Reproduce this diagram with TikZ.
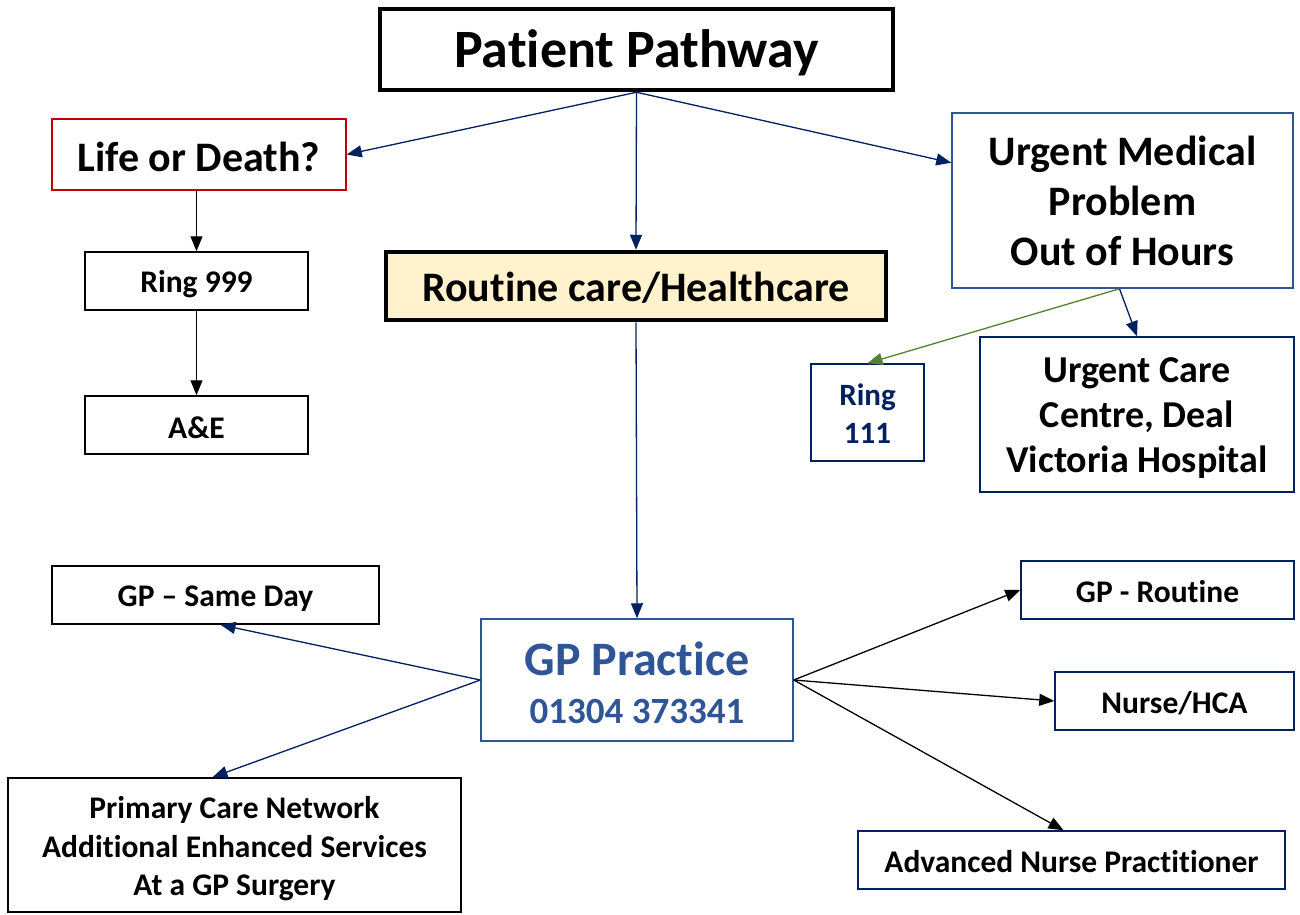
\documentclass[tikz,border=0pt]{standalone}
\usepackage{fontspec}
\setmainfont{Carlito}[RawFeature={-liga;-clig;-calt;-rlig;-dlig}]
\usetikzlibrary{arrows.meta,calc}
\definecolor{navy}{HTML}{002060}
\definecolor{midblue}{HTML}{2F5597}
\definecolor{darkred}{HTML}{C00000}
\definecolor{pgreen}{HTML}{548235}
\definecolor{paleyellow}{HTML}{FFF2CC}
\newcommand\dn[2]{\raisebox{-#1}[\height][\depth]{#2}}
\begin{document}
\begin{tikzpicture}[x=1pt,y=-1pt,
  box/.style={draw, line width=1.5pt, align=center, inner sep=0pt, font=\bfseries},
  thick box/.style={box, line width=4.5pt},
  arr/.style={-{Triangle[length=15pt,width=12pt]}, line width=1.3pt},
  fs/.style args={#1/#2}{font=\fontsize{#1}{#2}\selectfont\bfseries}
]
\useasboundingbox (0,0) rectangle (1300,914);
\fill[white] (0,0) rectangle (1300,914);

\node[thick box, minimum width=513, minimum height=81, fs=54/60] (pp) at (636.5,49.5) {\dn{3pt}{Patient Pathway}};
\node[box, draw=darkred, minimum width=294, minimum height=71, fs=42/48] (life) at (199,154.5) {\dn{2pt}{Life or Death?}};
\node[box, minimum width=223, minimum height=58, fs=31.5/36] (r999) at (196.5,281) {\dn{3pt}{Ring 999}};
\node[box, minimum width=223, minimum height=58, fs=31.5/36] (ae) at (196.5,425) {\dn{3pt}{A\&E}};
\node[thick box, fill=paleyellow, minimum width=500, minimum height=68, fs=42/48] (rc) at (636,286) {\dn{2pt}{Routine care/Healthcare}};
\node[box, draw=midblue, minimum width=341, minimum height=175, fs=42/50] (urg) at (1122.5,200.5) {Urgent Medical\\Problem\\Out of Hours};
\node[box, draw=navy, text=navy, minimum width=113, minimum height=97, fs=31/38] (r111) at (867.5,412.5) {\dn{1pt}{Ring}\\\dn{1pt}{111}};
\node[box, draw=navy, minimum width=314, minimum height=155, fs=38/45] (ucc) at (1137,414.5) {\dn{4pt}{Urgent Care}\\\dn{4pt}{Centre, Deal}\\\dn{4pt}{Victoria Hospital}};
\node[box, minimum width=327, minimum height=58, fs=31.5/36] (sd) at (215.5,595) {\dn{4pt}{GP -- Same Day}};
\node[box, draw=midblue, text=midblue, minimum width=312, minimum height=122, fs=48/48] (gp) at (637,680)
  {\dn{3pt}{GP Practice}\\\dn{3pt}{\fontsize{37}{44}\selectfont 01304 373341}};
\node[box, minimum width=453, minimum height=134, fs=31.5/38.5] (pcn) at (234.5,845) {\dn{4pt}{Primary Care Network}\\\dn{4pt}{Additional Enhanced Services}\\\dn{4pt}{At a GP Surgery}};
\node[box, draw=navy, minimum width=273, minimum height=58, fs=31.5/36] (gpr) at (1157.5,590) {\dn{2pt}{GP - Routine}};
\node[box, draw=navy, minimum width=239, minimum height=58, fs=31.5/36] (nurse) at (1174.5,701) {\dn{2pt}{Nurse/HCA}};
\node[box, draw=navy, minimum width=427, minimum height=58, fs=31.5/36] (anp) at (1071.5,860) {\dn{2pt}{Advanced Nurse Practitioner}};

\draw[arr, navy] (pp.south) -- (life.east);
\draw[arr, navy] (pp.south) -- (rc.north);
\draw[arr, navy] (pp.south) -- ($(urg.north west)!0.286!(urg.south west)$);
\draw[arr, black] (r999.north |- life.south) -- (r999.north);
\draw[arr, black] (r999.south) -- (ae.north);
\draw[arr, navy] (rc.south) -- (gp.north);
\draw[arr, pgreen] ($(urg.south)+(-3,0)$) -- (r111.north);
\draw[arr, navy] ($(urg.south)+(-3,0)$) -- (ucc.north);
\draw[arr, navy] (gp.west) -- ($(sd.south)+(5,0)$);
\draw[arr, navy] (gp.west) -- ($(pcn.north)+(-22,0)$);
\draw[arr, black] (gp.east) -- (gpr.west);
\draw[arr, black] (gp.east) -- (nurse.west);
\draw[arr, black] (gp.east) -- ($(anp.north)+(-8,0)$);
\end{tikzpicture}
\end{document}
